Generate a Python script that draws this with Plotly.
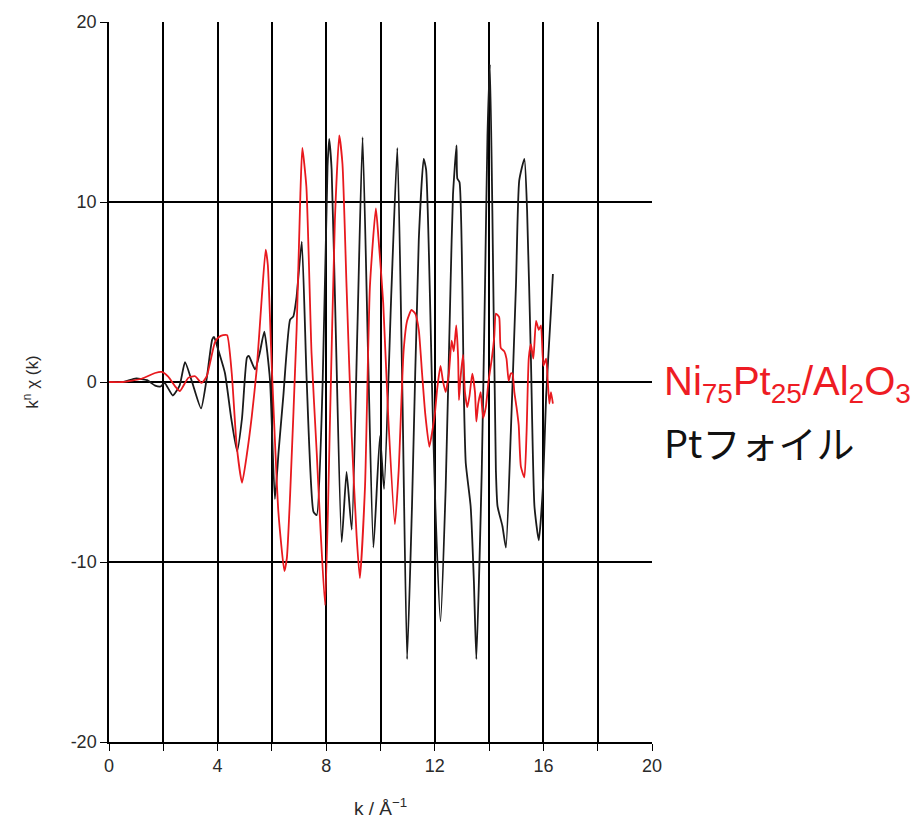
import plotly.graph_objects as go

# Pt foil (black)
k_pt = [0, 0.5, 1.0, 1.4, 1.7, 1.9, 2.05, 2.35, 2.6, 2.8, 3.06, 3.39, 3.6, 3.8, 3.87, 4.0,
        4.27, 4.5, 4.72, 4.9, 5.08, 5.15, 5.38, 5.55, 5.72, 5.93, 6.11, 6.25, 6.42, 6.67,
        6.79, 6.91, 7.1, 7.28, 7.53, 7.65, 7.87, 8.05, 8.11, 8.2, 8.35, 8.57, 8.75, 8.94,
        9.15, 9.34, 9.55, 9.74, 9.98, 10.13, 10.4, 10.62, 10.8, 10.98, 11.16, 11.41, 11.59,
        11.68, 11.9, 12.02, 12.21, 12.4, 12.58, 12.67, 12.8, 12.83, 12.91, 13.07, 13.14,
        13.32, 13.44, 13.53, 13.73, 13.85, 13.94, 14.03, 14.12, 14.25, 14.31, 14.49, 14.62,
        14.8, 14.99, 15.11, 15.3, 15.4, 15.54, 15.67, 15.83, 15.98, 16.1, 16.28, 16.35]
chi_pt = [0, 0.0, 0.2, 0.1, -0.2, -0.25, -0.05, -0.75, -0.2, 1.1, 0.0, -1.47, 0.2, 2.35, 2.5, 1.9,
          0.5, -2.0, -3.85, -2.0, 1.35, 1.45, 0.7, 1.6, 2.8, 0.1, -6.5, -3.8, -0.8, 3.46,
          3.65, 4.75, 7.8, 0.14, -7.2, -7.4, 0.0, 12.0, 13.5, 11.8, 3.0, -8.9, -5.0, -8.2,
          3.0, 13.6, 1.0, -9.2, -3.0, -5.95, 5.0, 13.0, 0.0, -15.4, -6.9, 7.9, 12.4,
          11.8, -0.35, -6.9, -13.3, -5.9, 5.4, 10.4, 13.15, 11.3, 11.1, -0.76, -4.5,
          -6.9, -11.1, -15.4, -4.9, 5.4, 13.7, 17.65, 9.5, -4.9, -6.9, -8.0, -9.2,
          -2.8, 5.4, 11.2, 12.4, 9.5, 1.3, -6.9, -8.8, -5.9, -0.8, 4.0, 6.0]

# Ni75Pt25/Al2O3 (red)
k_nipt = [0, 0.5, 1.2, 1.7, 1.94, 2.18, 2.43, 2.61, 2.92, 3.17, 3.41, 3.6, 3.9, 4.05, 4.2, 4.35,
          4.52, 4.7, 4.9, 5.08, 5.26, 5.44, 5.63, 5.77, 5.85, 5.99, 6.24, 6.46, 6.55, 6.67,
          6.91, 7.05, 7.12, 7.27, 7.46, 7.65, 7.77, 7.96, 8.14, 8.32, 8.48, 8.6, 8.75, 8.94,
          9.12, 9.24, 9.43, 9.61, 9.83, 9.92, 10.1, 10.29, 10.53, 10.67, 10.85, 10.98, 11.14,
          11.28, 11.41, 11.53, 11.65, 11.8, 11.9, 12.0, 12.09, 12.21, 12.3, 12.4, 12.52,
          12.62, 12.7, 12.79, 12.86, 12.89, 12.95, 13.04, 13.11, 13.2, 13.28, 13.38, 13.48,
          13.53, 13.6, 13.69, 13.78, 13.88, 13.98, 14.1, 14.19, 14.25, 14.37, 14.43, 14.56,
          14.64, 14.72, 14.8, 14.86, 14.93, 15.01, 15.09, 15.17, 15.3, 15.38, 15.46, 15.54,
          15.63, 15.73, 15.83, 15.91, 16.0, 16.1, 16.16, 16.22, 16.28, 16.35]
chi_nipt = [0, 0.0, 0.18, 0.5, 0.56, 0.3, -0.23, -0.5, 0.23, 0.32, -0.05, 0.32, 2.2, 2.5, 2.6, 2.6,
            0.5, -3.5, -5.6, -4.0, -1.9, 0.7, 4.75, 7.35, 6.5, 1.06, -7.25, -10.5, -9.8, -6.3,
            2.9, 10.5, 13.0, 10.85, 1.6, -3.9, -7.6, -12.4, -2.1, 9.0, 13.7, 12.1, 5.3, -3.0,
            -8.55, -10.9, -5.8, 5.3, 9.65, 8.1, 4.4, -2.1, -7.9, -4.9, 1.7, 3.4, 4.0,
            3.8, 2.9, 0.5, -1.8, -3.6, -2.8, -1.8, -0.35, 0.9, 0.06, -0.56, 0.5,
            2.3, 1.7, 3.15, 1.3, -1.0, 0.27, 1.5, -0.56, -1.4, -0.76, 0.47, -0.56,
            -2.2, -1.2, -0.56, -2.0, -1.4, 0.06, 1.3, 2.5, 3.8, 3.6, 1.9, 1.7,
            1.3, 0.06, 0.47, 0.47, -0.56, -1.4, -2.4, -4.7, -5.3, -2.8, 1.3, 2.1,
            1.3, 3.4, 2.9, 3.15, 0.9, 1.3, 0.06, -1.2, -0.56, -1.2]

x_tickvals = [0, 2, 4, 6, 8, 10, 12, 14, 16, 18, 20]
x_ticktext = ["0", "", "4", "", "8", "", "12", "", "16", "", "20"]
y_tickvals = [-20, -10, 0, 10, 20]
y_ticktext = ["-20", "-10", "0", "10", "20"]

fig = go.Figure()
fig.add_trace(go.Scatter(x=k_pt, y=chi_pt, mode="lines",
                         line=dict(color="#1a1a1a", width=1.8, shape="spline", smoothing=0.5),
                         name="Ptフォイル"))
fig.add_trace(go.Scatter(x=k_nipt, y=chi_nipt, mode="lines",
                         line=dict(color="#e8191e", width=1.8, shape="spline", smoothing=0.5),
                         name="Ni75Pt25/Al2O3"))

axis_font = dict(family="Liberation Sans, Arial, sans-serif", size=18, color="#2a2a2a")
fig.update_xaxes(range=[0, 20], tickvals=x_tickvals, ticktext=x_ticktext,
                 showgrid=True, gridcolor="black", gridwidth=1.5,
                 showline=True, linecolor="black", linewidth=1.5,
                 ticks="outside", ticklen=7, tickcolor="black", tickwidth=1.3,
                 zeroline=False, tickfont=axis_font,
                 title=dict(text="k / Å<sup>−1</sup>",
                            font=dict(family="Liberation Sans, Arial, sans-serif", size=19, color="#2a2a2a"),
                            standoff=26))
fig.update_yaxes(range=[-20, 20], tickvals=y_tickvals, ticktext=y_ticktext,
                 showgrid=True, gridcolor="black", gridwidth=1.5,
                 showline=True, linecolor="black", linewidth=1.5,
                 ticks="outside", ticklen=7, tickcolor="black", tickwidth=1.3,
                 zeroline=True, zerolinecolor="black", zerolinewidth=1.5,
                 tickfont=axis_font,
                 title=dict(text="k<sup>n</sup> χ (k)",
                            font=dict(family="Liberation Sans, Arial, sans-serif", size=17, color="#2a2a2a"),
                            standoff=28))

fig.add_annotation(xref="paper", yref="paper", x=1.02, y=0.497, xanchor="left", yanchor="middle",
                   text="Ni<sub>75</sub>Pt<sub>25</sub>/Al<sub>2</sub>O<sub>3</sub>",
                   showarrow=False, borderpad=0,
                   font=dict(family="Liberation Sans, Arial, sans-serif", size=40, color="#ee1c24"))
fig.add_annotation(xref="paper", yref="paper", x=1.02, y=0.418, xanchor="left", yanchor="middle",
                   text="Ptフォイル",
                   showarrow=False, borderpad=0,
                   font=dict(family="Noto Sans CJK JP, sans-serif", size=38, color="#111111"))

fig.update_layout(width=924, height=828, margin=dict(l=109, r=272, t=22, b=84),
                  plot_bgcolor="white", paper_bgcolor="white", showlegend=False)

fig.write_html("out.html")
